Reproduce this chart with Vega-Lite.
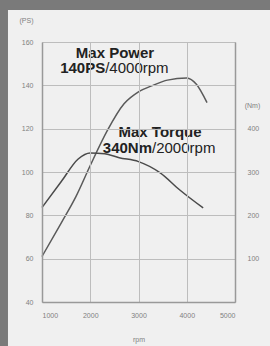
{
  "$schema": "https://vega.github.io/schema/vega-lite/v6.json",
  "width": 193,
  "height": 260,
  "autosize": "none",
  "padding": {"left": 42, "top": 42, "right": 35, "bottom": 44},
  "background": "#7a7a7a",
  "config": {
    "view": {"stroke": null},
    "axis": {
      "domainColor": "#999999",
      "domainWidth": 1.5,
      "ticks": false,
      "gridColor": "#bdbdbd",
      "gridWidth": 1,
      "labelFontSize": 7,
      "labelColor": "#808080",
      "labelFont": "Liberation Sans",
      "titleFont": "Liberation Sans",
      "titleFontSize": 7,
      "titleFontWeight": "normal",
      "titleColor": "#808080"
    },
    "text": {"font": "Liberation Sans"}
  },
  "datasets": {
    "one": [{}],
    "power": [
      {"rpm": 1000, "ps": 61},
      {"rpm": 1400, "ps": 76.5},
      {"rpm": 1700, "ps": 88.5},
      {"rpm": 2000, "ps": 103},
      {"rpm": 2350, "ps": 119},
      {"rpm": 2700, "ps": 131.5},
      {"rpm": 3000, "ps": 137},
      {"rpm": 3300, "ps": 140},
      {"rpm": 3600, "ps": 142.4},
      {"rpm": 4000, "ps": 143.4},
      {"rpm": 4200, "ps": 140.5},
      {"rpm": 4420, "ps": 132}
    ],
    "torque": [
      {"rpm": 1000, "nm": 218},
      {"rpm": 1400, "nm": 278},
      {"rpm": 1750, "nm": 330},
      {"rpm": 2000, "nm": 344},
      {"rpm": 2300, "nm": 342},
      {"rpm": 2600, "nm": 333},
      {"rpm": 3000, "nm": 324},
      {"rpm": 3450, "nm": 298},
      {"rpm": 3850, "nm": 259},
      {"rpm": 4340, "nm": 217}
    ]
  },
  "layer": [
    {
      "layer": [
        {
          "data": {"name": "one"},
          "mark": {"type": "rect", "color": "#f0f0f0"},
          "encoding": {
            "x": {"datum": 295, "type": "quantitative"},
            "x2": {"datum": 7000},
            "y": {"datum": 174.8, "type": "quantitative"},
            "y2": {"datum": 0}
          }
        },
        {
          "data": {"name": "power"},
          "mark": {"type": "line", "color": "#5a5a5a", "strokeWidth": 1.5, "interpolate": "monotone"},
          "encoding": {
            "x": {
              "field": "rpm", "type": "quantitative",
              "scale": {"domain": [1000, 5000], "nice": false, "zero": false},
              "axis": {"zindex": 1, "domain": true, "format": "d", "values": [1000, 2000, 3000, 4000, 5000], "grid": true, "labelPadding": 9, "title": "rpm", "titleY": 37, "titleBaseline": "middle"}
            },
            "y": {
              "field": "ps", "type": "quantitative",
              "scale": {"domain": [40, 160], "nice": false, "zero": false},
              "axis": {"zindex": 1, "domain": true, "orient": "left", "values": [40, 60, 80, 100, 120, 140, 160], "grid": true, "labelPadding": 9, "title": "(PS)", "titleAngle": 0, "titleX": -16, "titleY": -22, "titleAlign": "center", "titleBaseline": "middle"}
            }
          }
        },
        {
          "data": {"name": "one"},
          "mark": {"type": "text", "text": "Max Power", "fontWeight": "bold", "fontSize": 15, "color": "#222222", "align": "center", "baseline": "alphabetic"},
          "encoding": {"x": {"datum": 2513, "type": "quantitative"}, "y": {"datum": 152.6, "type": "quantitative"}}
        },
        {
          "data": {"name": "one"},
          "mark": {"type": "text", "text": "140PS", "fontWeight": "bold", "fontSize": 15, "color": "#222222", "align": "right", "baseline": "alphabetic"},
          "encoding": {"x": {"datum": 2310, "type": "quantitative"}, "y": {"datum": 145.7, "type": "quantitative"}}
        },
        {
          "data": {"name": "one"},
          "mark": {"type": "text", "text": "/4000rpm", "fontWeight": "normal", "fontSize": 15, "color": "#222222", "align": "left", "baseline": "alphabetic"},
          "encoding": {"x": {"datum": 2310, "type": "quantitative"}, "y": {"datum": 145.7, "type": "quantitative"}}
        },
        {
          "data": {"name": "one"},
          "mark": {"type": "text", "text": "Max Torque", "fontWeight": "bold", "fontSize": 15, "color": "#222222", "align": "center", "baseline": "alphabetic"},
          "encoding": {"x": {"datum": 3446, "type": "quantitative"}, "y": {"datum": 116.2, "type": "quantitative"}}
        },
        {
          "data": {"name": "one"},
          "mark": {"type": "text", "text": "340Nm", "fontWeight": "bold", "fontSize": 15, "color": "#222222", "align": "right", "baseline": "alphabetic"},
          "encoding": {"x": {"datum": 3280, "type": "quantitative"}, "y": {"datum": 108.8, "type": "quantitative"}}
        },
        {
          "data": {"name": "one"},
          "mark": {"type": "text", "text": "/2000rpm", "fontWeight": "normal", "fontSize": 15, "color": "#222222", "align": "left", "baseline": "alphabetic"},
          "encoding": {"x": {"datum": 3280, "type": "quantitative"}, "y": {"datum": 108.8, "type": "quantitative"}}
        }
      ]
    },
    {
      "data": {"name": "torque"},
      "mark": {"type": "line", "color": "#4a4a4a", "strokeWidth": 1.5, "interpolate": "monotone"},
      "encoding": {
        "x": {"field": "rpm", "type": "quantitative"},
        "y": {
          "field": "nm", "type": "quantitative",
          "scale": {"domain": [0, 600], "nice": false},
          "axis": {"zindex": 1, "domain": true, "orient": "right", "values": [100, 200, 300, 400], "grid": false, "labelPadding": 12, "title": "(Nm)", "titleAngle": 0, "titleX": 17, "titleY": 63, "titleAlign": "center", "titleBaseline": "middle"}
        }
      }
    }
  ],
  "resolve": {"scale": {"y": "independent"}, "axis": {"y": "independent"}}
}
